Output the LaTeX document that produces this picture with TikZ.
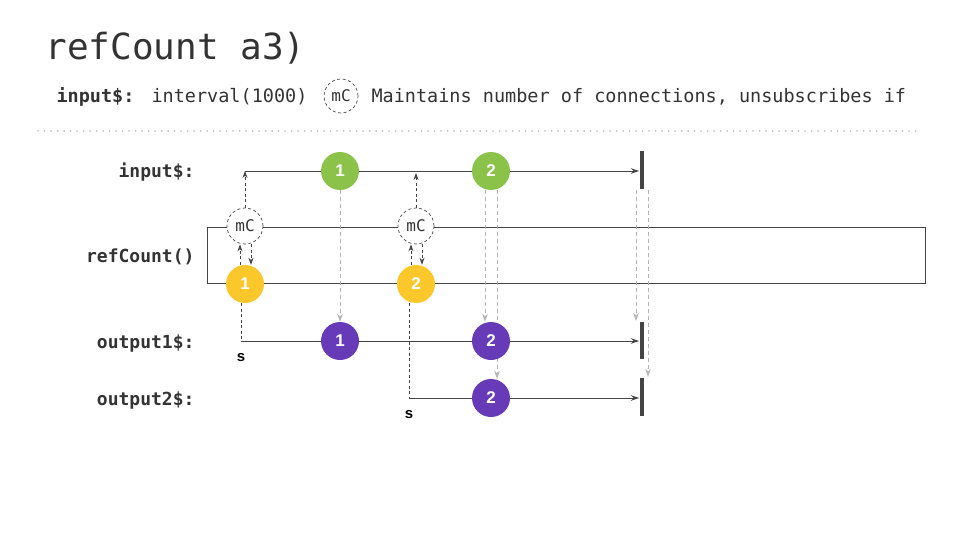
\documentclass[tikz,border=0pt]{standalone}
\usepackage{fontspec}
\setmainfont{DejaVu Sans Mono}
\newfontfamily\numfont{Liberation Sans}
\usetikzlibrary{arrows.meta,backgrounds}

\definecolor{ink}{HTML}{444444}
\definecolor{txt}{HTML}{333333}
\definecolor{faint}{HTML}{B4B4B4}
\definecolor{grn}{HTML}{8BC34A}
\definecolor{ylw}{HTML}{FBC72A}
\definecolor{prp}{HTML}{673AB7}

\tikzset{
	marble/.style={circle,minimum size=38pt,inner sep=0pt,text=white,
		font=\numfont\bfseries\fontsize{17}{17}\selectfont},
	opbox/.style={circle,draw=ink,dash pattern=on 3pt off 2.5pt,line width=0.7pt,fill=white,
		minimum size=36pt,inner sep=0pt,font=\fontsize{16}{16}\selectfont,text=txt},
	lbl/.style={anchor=base east,text=txt,font=\bfseries\fontsize{18}{18}\selectfont},
	tl/.style={draw=ink,line width=0.95pt},
	hint/.style={draw=ink,dash pattern=on 3pt off 2.5pt,line width=0.8pt,-{Stealth[length=7pt,width=5pt]}},
	echo/.style={draw=faint,dash pattern=on 4pt off 3pt,line width=0.9pt,-{Stealth[length=8pt,width=5.5pt]}},
	done/.style={draw=ink,line width=3.8pt},
	sub/.style={anchor=base,font=\numfont\bfseries\fontsize{15}{15}\selectfont}
}

\begin{document}
\begin{tikzpicture}[x=1pt,y=-1pt]
	\useasboundingbox (0,0) rectangle (960,540);

	% heading
	\node[anchor=base west,text=txt,font=\fontsize{36}{36}\selectfont] (title) at (42,60) {refCount a3)};
	\node[anchor=base west,text=txt,font=\bfseries\fontsize{18.5}{18.5}\selectfont] (key) at (53,103) {input\$:};
	\node[anchor=base west,text=txt,font=\fontsize{18.5}{18.5}\selectfont] (keyval) at (148,103) {interval(1000)};
	\node[opbox,minimum size=34pt] (keymc) at (341,96) {mC};
	\node[anchor=base west,text=txt,font=\fontsize{18.5}{18.5}\selectfont] (keytext) at (368,103)
		{Maintains number of connections, unsubscribes if};
	\draw[faint!80,line width=2pt,line cap=round,dash pattern=on 0pt off 6.5pt] (38,131) -- (922,131);

	% lane labels
	\node[lbl] (lin) at (198,178) {input\$:};
	\node[lbl] (lref) at (198,262) {refCount()};
	\node[lbl] (lo1) at (198,348) {output1\$:};
	\node[lbl] (lo2) at (198,405) {output2\$:};

	\path
	(245,171) coordinate (in0)
	(416,171) coordinate (in1)
	(639,171) coordinate (inEnd)
	(241,341) coordinate (o1s)
	(639,341) coordinate (o1End)
	(409,398) coordinate (o2s)
	(639,398) coordinate (o2End);

	\node[marble,fill=grn] (g1) at (340,171) {1};
	\node[marble,fill=grn] (g2) at (491,171) {2};
	\node[opbox] (mc1) at (245,226) {mC};
	\node[opbox] (mc2) at (416,226) {mC};
	\node[marble,fill=ylw] (y1) at (245,284) {1};
	\node[marble,fill=ylw] (y2) at (416,284) {2};
	\node[marble,fill=prp] (p1) at (340,341) {1};
	\node[marble,fill=prp] (p2) at (491,341) {2};
	\node[marble,fill=prp] (p3) at (491,398) {2};
	\node[sub] (s1) at (241,361) {s};
	\node[sub] (s2) at (409,418) {s};

	\begin{scope}[on background layer]
		\draw[tl] (207,227) rectangle (925,283);
		\draw[echo] (g1) -- (p1);
		\draw[echo] ([xshift=-6pt]g2.south) -- ([xshift=-6pt]p2.north);
		\draw[echo] ([xshift=6pt]g2.south) -- ([xshift=6pt]p3.north);
		\draw[echo] (636,190) -- (636,321);
		\draw[echo] (648,190) -- (648,377);
	\end{scope}

	% input$
	\draw[tl,-{Stealth[length=8pt,width=5.5pt]}] (in0) -- (g1) -- (g2) -- (inEnd);
	\draw[done] (642,151) -- (642,189);

	% refCount
	\draw[hint] (mc1) -- (in0);
	\draw[hint] (mc2) -- ([yshift=-2pt]in1);
	\draw[hint] ([xshift=-5pt]y1.north) -- ([xshift=-5pt]mc1.south);
	\draw[hint] ([xshift=6pt]mc1.south) -- ([xshift=6pt]y1.north);
	\draw[hint] ([xshift=-5pt]y2.north) -- ([xshift=-5pt]mc2.south);
	\draw[hint] ([xshift=6pt]mc2.south) -- ([xshift=6pt]y2.north);

	% output1$
	\draw[ink,dash pattern=on 3pt off 2.5pt,line width=0.8pt] ([xshift=-4pt]y1.south) -- (o1s);
	\draw[tl,-{Stealth[length=8pt,width=5.5pt]}] (o1s) -- (p1) -- (p2) -- (o1End);
	\draw[done] (642,322) -- (642,359);

	% output2$
	\draw[ink,dash pattern=on 3pt off 2.5pt,line width=0.8pt] ([xshift=-7pt]y2.south) -- (o2s);
	\draw[tl,-{Stealth[length=8pt,width=5.5pt]}] (o2s) -- (p3) -- (o2End);
	\draw[done] (642,378) -- (642,416);
\end{tikzpicture}
\end{document}
